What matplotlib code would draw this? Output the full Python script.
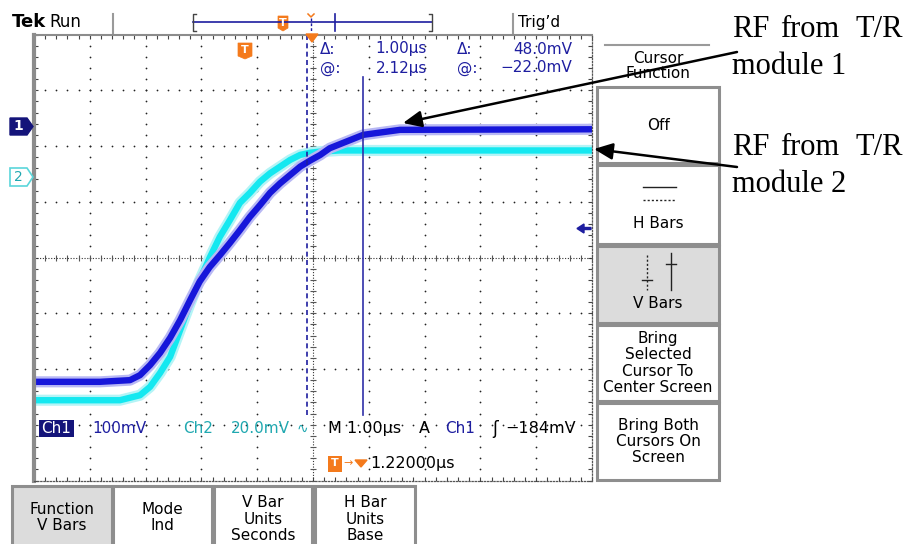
import numpy as np
import matplotlib.pyplot as plt
from matplotlib.patches import Rectangle, Polygon

W, H = 916, 544

# traces in screen divisions: x = 1.00 us/div from the left edge, y = div from centre
ch1_t = [0.0, 1.18, 1.72, 1.90, 2.08, 2.26, 2.44, 2.62, 2.80, 2.97, 3.15, 3.33, 3.51,
         3.69, 3.87, 4.05, 4.23, 4.41, 4.59, 4.77, 4.95, 5.13, 5.30, 5.90, 6.56, 10.0]
ch1_v = [-2.23, -2.23, -2.20, -2.11, -1.93, -1.71, -1.44, -1.12, -0.76, -0.43, -0.17,
         0.04, 0.26, 0.49, 0.73, 0.94, 1.16, 1.33, 1.48, 1.63, 1.74, 1.84, 1.96, 2.20,
         2.29, 2.30]
ch2_t = [0.0, 1.54, 1.90, 2.08, 2.26, 2.44, 2.62, 2.80, 2.97, 3.15, 3.33, 3.51, 3.69,
         3.87, 4.05, 4.23, 4.41, 4.59, 4.77, 4.95, 5.13, 5.48, 10.0]
ch2_v = [-2.56, -2.56, -2.47, -2.32, -2.07, -1.78, -1.30, -0.82, -0.40, 0.0, 0.37,
         0.67, 0.98, 1.16, 1.36, 1.51, 1.63, 1.75, 1.84, 1.88, 1.90, 1.92, 1.92]
cursor_t = [4.90, 5.90]          # dashed (selected) and solid V bar

readout_dt = ["Δ:", "1.00µs", "@:", "2.12µs"]
readout_dv = ["Δ:", "48.0mV", "@:", "−22.0mV"]
side_menu = ["Off", "H Bars", "V Bars", "Bring\nSelected\nCursor To\nCenter Screen",
             "Bring Both\nCursors On\nScreen"]
bottom_menu = ["Function\nV Bars", "Mode\nInd", "V Bar\nUnits\nSeconds", "H Bar\nUnits\nBase"]

NAVY = "#1e1ea0"
TEAL = "#20a8b0"
ORANGE = "#f47a1c"
EDGE = "#8e8e8e"

fig = plt.figure(figsize=(W / 100, H / 100), dpi=100)

# ---- graticule -------------------------------------------------------------
sc = fig.add_axes([34 / W, 1 - 480.5 / H, 558 / W, 446 / H], zorder=1)
sc.set_xlim(0, 10)
sc.set_ylim(-4, 4)
sub_x = np.arange(0, 10.01, 0.2)
sub_y = np.arange(-4, 4.01, 0.2)
sc.set_xticks(sub_x)
sc.set_yticks(sub_y)
sc.tick_params(direction="in", length=3, width=0.8, color="#444444",
               top=True, right=True, labelbottom=False, labelleft=False)
sc.spines["left"].set(color="#8c8c8c", lw=3)
sc.spines["top"].set(color="#8c8c8c", lw=1.5)
for s in ("bottom", "right"):
    sc.spines[s].set(color="#555555", lw=0.9, ls=(0, (1, 1.5)))

for gx in range(1, 10):
    if gx != 5:
        sc.scatter(np.full_like(sub_y, gx), sub_y, s=1.6, color="#222222", lw=0)
for gy in range(-3, 4):
    if gy != 0:
        sc.scatter(sub_x, np.full_like(sub_x, gy), s=1.6, color="#222222", lw=0)
sc.axhline(0, color="#333333", lw=0.8, ls=(0, (1, 1.5)))
sc.axvline(5, color="#333333", lw=0.8, ls=(0, (1, 1.5)))
sc.plot(sub_x, np.zeros_like(sub_x), ls="none", marker="|", ms=5, mew=0.8, color="#555555")
sc.plot(np.full_like(sub_y, 5), sub_y, ls="none", marker="_", ms=5, mew=0.8, color="#555555")

# traces: soft fringe under a solid core
for t, v, halo, core in [(ch2_t, ch2_v, "#b4f4f6", "#14e8f0"),
                         (ch1_t, ch1_v, "#b8b8f4", "#1616da")]:
    sc.plot(t, v, color=halo, lw=8, solid_joinstyle="round", solid_capstyle="butt")
    sc.plot(t, v, color=core, lw=4.6, solid_joinstyle="round", solid_capstyle="butt")

# V bar cursors
sc.plot([cursor_t[0]] * 2, [4, -2.85], color=NAVY, lw=1.2, ls=(0, (3, 2)))
sc.plot([cursor_t[1]] * 2, [3.24, -2.83], color="#3030a8", lw=1.2)

# ---- screen furniture in pixel coordinates --------------------------------
ui = fig.add_axes([0, 0, 1, 1], zorder=3)
ui.set_xlim(0, W)
ui.set_ylim(H, 0)
ui.axis("off")


def txt(x, y, s, size=11, **kw):
    kw.setdefault("va", "center")
    ui.text(x, y, s, fontsize=size, **kw)


def tmark(x0, y0, x1, y1):
    xm = (x0 + x1) / 2
    ui.add_patch(Polygon([(x0, y0), (x1, y0), (x1, y1 - 3), (xm, y1), (x0, y1 - 3)],
                         closed=True, fc=ORANGE, ec=ORANGE, lw=0.5))
    txt(xm, (y0 + y1) / 2 - 1, "T", size=8, ha="center", color="white", weight="bold")


# top status line
txt(12, 22, "Tek", size=13, weight="bold")
txt(49, 22, "Run", size=12)
for xs in (113, 513):
    ui.plot([xs, xs], [14, 33], color="#9a9a9a", lw=1.5)
txt(518, 22, "Trig’d", size=11)
ui.plot([193, 432], [22, 22], color=NAVY, lw=1.2)
for xb, d in ((193, 3), (432, -3)):
    ui.plot([xb + d, xb, xb, xb + d], [14, 14, 31, 31], color="#444444", lw=1)
ui.plot([335, 335], [14, 31], color=NAVY, lw=1.2)
ui.plot([311, 311], [18, 31], color=NAVY, lw=1, ls=(0, (2, 1.5)))
ui.plot([308, 311, 314], [14, 17, 14], color=ORANGE, lw=1.1)
tmark(278, 16, 288, 31)
ui.add_patch(Polygon([(306, 34), (318, 34), (312, 42)], closed=True, fc=ORANGE, ec=ORANGE))
tmark(238, 43, 252, 59)

# channel markers
ui.add_patch(Polygon([(10, 118), (27, 118), (33, 126.5), (27, 135), (10, 135)],
                     closed=True, fc="#14147a", ec="#14147a"))
txt(18, 126.5, "1", size=10, ha="center", color="white", weight="bold")
ui.add_patch(Polygon([(10, 168), (27, 168), (33, 177), (27, 186), (10, 186)],
                     closed=True, fc="white", ec="#5ad6da", lw=1.2))
txt(18, 177, "2", size=10, ha="center", color=TEAL)
ui.add_patch(Polygon([(577, 228.5), (584, 224), (584, 227.5), (591, 227.5),
                      (591, 229.5), (584, 229.5), (584, 233)], closed=True, fc=NAVY, ec=NAVY))

# cursor readouts
for (x_lab, x_val), vals in (((320, 427), readout_dt), ((457, 572), readout_dv)):
    txt(x_lab, 49, vals[0], color=NAVY)
    txt(x_val, 49, vals[1], ha="right", color=NAVY)
    txt(x_lab, 68, vals[2], color=NAVY)
    txt(x_val, 68, vals[3], ha="right", color=NAVY)

# channel / timebase readout
ui.add_patch(Rectangle((39, 420), 35, 17, fc="#14147a", ec="none"))
txt(56.5, 428.5, "Ch1", ha="center", color="white")
txt(92, 428.5, "100mV", color=NAVY)
txt(183, 428.5, "Ch2", color=TEAL)
txt(231, 428.5, "20.0mV", color=TEAL)
txt(297, 428.5, "∿", size=10, color=TEAL)
txt(328, 428.5, "M 1.00µs", size=11.5)
txt(419, 428.5, "A", size=11.5)
txt(445, 428.5, "Ch1", color=NAVY)
txt(492, 428.5, "ʃ", size=12)
txt(505, 428.5, "−184mV", size=11.5)
ui.add_patch(Rectangle((328, 456), 14, 16, fc=ORANGE, ec="none"))
txt(335, 463.5, "T", size=8, ha="center", color="white", weight="bold")
txt(343, 463.5, "→", size=8, color=ORANGE)
ui.add_patch(Polygon([(355, 460), (367, 460), (361, 467)], closed=True, fc=ORANGE, ec=ORANGE))
txt(370, 463.5, "1.22000µs", size=11.5)

# side menu
ui.plot([605, 709], [45, 45], color="#9a9a9a", lw=1.5)
txt(658, 66, "Cursor\nFunction", ha="center", linespacing=1.05)
boxes = [(87, 163, "white"), (165, 244, "white"), (246, 323, "#dcdcdc"),
         (325, 401, "white"), (403, 480, "white")]
for (y0, y1, fill), label in zip(boxes, side_menu):
    ui.add_patch(Rectangle((597, y0), 122, y1 - y0, fc=fill, ec=EDGE, lw=2.2))
    yc = y1 - 20 if "Bars" in label else (y0 + y1) / 2
    txt(658, yc, label, ha="center", linespacing=1.12)
ui.plot([643, 676], [187, 187], color="#222222", lw=1)
ui.plot([643, 676], [199.5, 199.5], color="#222222", lw=1, ls=(0, (1.5, 1.5)))
ui.plot([647, 647], [255, 290], color="#222222", lw=1, ls=(0, (1.5, 1.5)))
ui.plot([642, 652], [280, 280], color="#222222", lw=1)
ui.plot([671, 671], [253, 290], color="#222222", lw=1)
ui.plot([666, 676], [264, 264], color="#222222", lw=1)

# bottom menu
for (x0, x1, fill), label in zip([(12, 112, "#dcdcdc"), (113, 212, "white"),
                                  (214, 312, "white"), (315, 415, "white")], bottom_menu):
    ui.add_patch(Rectangle((x0, 486), x1 - x0, 80, fc=fill, ec=EDGE, lw=2.2))
    yc = 517.5 if label.count("\n") == 1 else 519
    txt((x0 + x1) / 2, yc, label, ha="center", linespacing=1.12)

# annotations
serif = "Liberation Serif"
for yb, num in ((37, "1"), (155, "2")):
    for xw, word in ((732, "RF"), (780, "from"), (855, "T/R")):
        ui.text(xw, yb, word, fontsize=22, family=serif, va="baseline")
    ui.text(732, yb + 37, "module " + num, fontsize=22, family=serif, va="baseline")
arrow = dict(arrowstyle="-|>,head_length=0.45,head_width=0.2", mutation_scale=25,
             lw=1.8, color="black", shrinkA=0, shrinkB=0)
ui.annotate("", xy=(403, 123), xytext=(737, 52), arrowprops=arrow, zorder=5)
ui.annotate("", xy=(594, 149), xytext=(737, 167), arrowprops=arrow, zorder=5)

fig.savefig("out.png", dpi=100)
